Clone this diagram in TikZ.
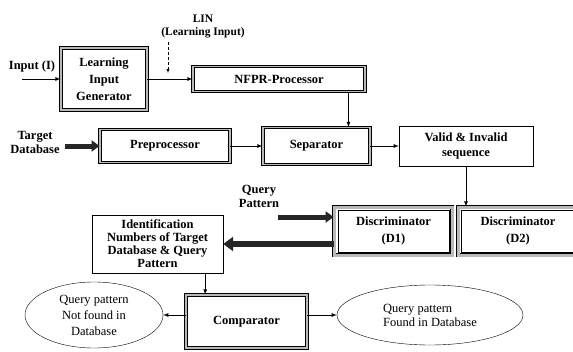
\documentclass[tikz,border=0pt]{standalone}
\usepackage{fontspec}
\setmainfont{Liberation Serif}
\usetikzlibrary{shapes.geometric,arrows.meta}
\tikzset{
  hbox/.style={draw, line width=0.9pt, double=gray!55, double distance=1.6pt,
    font=\fontsize{12.5}{15}\selectfont\bfseries, align=center, inner sep=0pt},
  dbox/.style={draw, line width=0.8pt, double=gray!55, double distance=3pt, inner sep=0pt},
  pbox/.style={draw, thin, font=\fontsize{12.5}{15}\selectfont\bfseries, align=center, inner sep=0pt},
  oval/.style={draw, thin, ellipse, inner sep=0pt, align=center},
  lbl/.style={font=\fontsize{12.5}{14}\selectfont\bfseries, align=center},
  fat/.style={line width=5pt, black!85, -{Triangle[length=8pt,width=11pt]}},
}
\begin{document}
\begin{tikzpicture}[x=1pt, y=-1pt, >=latex, thick]
\useasboundingbox (0,0) rectangle (573,351);

% entrées
\node[lbl] (inp) at (32,66) {Input (I)};
\node[lbl, font=\fontsize{11.5}{13}\selectfont\bfseries] (lin) at (203,27) {LIN\\(Learning Input)};
\node[lbl] (tdb) at (35,142) {Target\\Database};
\node[lbl] (qp) at (259,196) {Query\\Pattern};

% ligne du haut
\node[hbox, minimum width=86pt, minimum height=62pt] (lig) at (104,79) {Learning\\[2pt]Input\\[2pt]Generator};
\node[hbox, minimum width=172pt, minimum height=25pt] (nfpr) at (279,79) {NFPR-Processor};

\coordinate (in) at (22,79);
\draw[->] (in) -- (lig);
\draw[->] (lig) -- (nfpr);
\coordinate (lina) at (168,42);
\coordinate (linb) at (168,73);
\draw[->, thin, densely dashed] (lina) -- (linb);

% ligne du milieu
\node[hbox, minimum width=130pt, minimum height=33pt] (pre) at (165,146) {Preprocessor};
\node[hbox, minimum width=107pt, minimum height=37pt] (sep) at (316.5,146) {Separator};
\node[pbox, minimum width=134pt, minimum height=40pt] (valid) at (466,146) {Valid \& Invalid\\sequence};

\coordinate (tda) at (65,146);
\draw[fat] (tda) -- (pre);
\draw[->] (pre) -- (sep);
\draw[->] (sep) -- (valid);
\draw[->] ([xshift=-17pt]nfpr.south east) -- ([xshift=-17pt]nfpr.south east |- sep.north);

% discriminateurs
\node[dbox, minimum width=118pt, minimum height=48pt] (c1) at (393,231) {};
\node[dbox, minimum width=122pt, minimum height=48pt] (c2) at (519,231) {};
\node[pbox, minimum width=111pt, minimum height=42pt] (d1) at (393.5,231) {Discriminator\\[2pt](D1)};
\node[pbox, minimum width=114pt, minimum height=42pt] (d2) at (518,231) {Discriminator\\[2pt](D2)};
\draw[->] (valid.south) -- (valid.south |- c2.north);

\coordinate (qpa) at (278,217);
\draw[fat] (qpa) -- (qpa -| c1.west);

% identification et comparaison
\node[pbox, font=\fontsize{12.5}{13}\selectfont\bfseries, minimum width=131pt, minimum height=58pt] (ident) at (157.5,244)
  {Identification\\Numbers of Target\\Database \& Query\\Pattern};
\draw[fat, line width=6pt, -{Triangle[length=10pt,width=14pt]}] (c1.west |- ident.east) -- (ident.east);

\node[hbox, minimum width=121pt, minimum height=53pt] (comp) at (246.5,321.5) {Comparator};
\draw[->] ([xshift=-18pt]ident.south east) -- ([xshift=-18pt]ident.south east |- comp.north);

\node[oval, font=\fontsize{12.5}{16}\selectfont, minimum width=138pt, minimum height=66pt] (nf) at (94,315)
  {Query pattern\\Not found in\\Database};
\node[oval, font=\fontsize{12.5}{14}\selectfont, align=left, minimum width=186pt, minimum height=60pt] (fd) at (430,315)
  {Query pattern\\Found in Database};
\draw[->] (comp.west |- nf.east) -- (nf.east);
\draw[->] (comp.east |- fd.west) -- (fd.west);
\end{tikzpicture}
\end{document}
